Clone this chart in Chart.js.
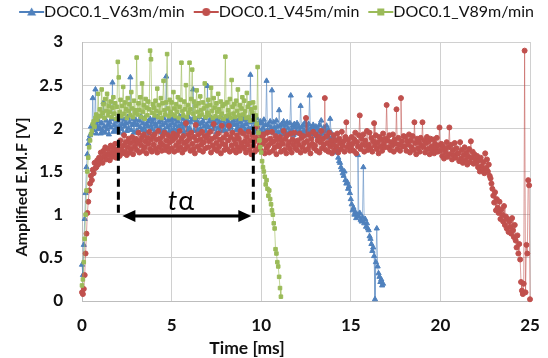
<!DOCTYPE html>
<html>
<head>
<meta charset="utf-8">
<script src="https://cdn.jsdelivr.net/npm/chart.js@4/dist/chart.umd.min.js"></script>
<style>
  body { margin: 0; background: #fff; }
</style>
</head>
<body>
<canvas id="emfChart" width="548" height="358"></canvas>
<script>
  // sampling interval of the plotted points [ms]
  var timeStepMs = 0.05;

  // DOC0.1_V63m/min  (0.0 - 16.8 ms), one row = 1 ms
  var v63Emf = [
    0.42, 0.30, 0.65, 0.95, 1.25, 1.55, 1.70, 1.82, 1.88, 1.92, 2.02, 1.95, 2.35, 1.98, 2.05, 2.45, 1.94, 2.03, 1.99, 2.08,
    2.00, 1.94, 2.06, 1.97, 2.30, 2.02, 1.95, 2.09, 1.99, 2.04, 1.93, 2.07, 2.01, 2.11, 2.53, 1.96, 2.04, 1.98, 2.10, 2.00,
    2.08, 1.96, 2.03, 2.12, 1.99, 2.05, 1.94, 2.10, 2.02, 2.06, 1.97, 2.13, 2.00, 2.07, 2.59, 1.98, 2.04, 2.11, 1.95, 2.06,
    2.10, 1.97, 2.04, 1.95, 2.09, 2.01, 2.14, 1.98, 2.06, 2.00, 2.12, 1.96, 2.05, 2.02, 2.08, 1.94, 2.11, 2.03, 1.99, 2.07,
    2.11, 1.96, 2.05, 2.02, 2.13, 1.97, 2.07, 2.00, 2.09, 1.95, 2.04, 2.12, 1.98, 2.06, 2.60, 2.01, 2.09, 1.96, 2.03, 2.10,
    1.98, 2.06, 2.12, 1.99, 2.04, 2.10, 1.96, 2.08, 2.02, 2.14, 1.97, 2.05, 2.00, 2.11, 1.95, 2.07, 2.03, 2.09, 1.98, 2.13,
    2.00, 2.07, 1.96, 2.10, 2.45, 1.97, 2.11, 2.03, 2.09, 1.98, 2.05, 2.13, 1.99, 2.06, 1.94, 2.08, 2.02, 2.12, 1.97, 2.04,
    2.49, 2.01, 2.08, 1.96, 2.12, 2.04, 1.99, 2.10, 2.02, 2.06, 1.95, 2.11, 2.00, 2.07, 1.97, 2.13, 2.03, 2.09, 1.98, 2.05,
    1.97, 2.11, 2.03, 2.08, 1.99, 2.13, 2.01, 2.06, 1.96, 2.09, 2.04, 2.12, 1.98, 2.05, 2.00, 2.10, 1.95, 2.07, 2.02, 2.14,
    2.02, 2.10, 1.98, 2.05, 1.96, 2.11, 2.00, 2.07, 2.62, 2.00, 2.07, 1.95, 2.09, 2.03, 1.97, 2.12, 2.01, 2.06, 1.94, 2.08,
    1.97, 2.06, 2.00, 2.10, 1.96, 2.04, 2.55, 1.98, 2.04, 1.96, 2.08, 2.01, 2.44, 1.95, 2.07, 2.01, 1.97, 2.09, 2.02, 1.95,
    2.21, 2.03, 1.97, 2.05, 1.93, 2.08, 1.99, 2.04, 1.95, 2.07, 2.00, 1.94, 2.06, 2.38, 1.98, 2.03, 1.92, 2.05, 2.01, 1.96,
    2.06, 1.94, 2.02, 1.97, 2.26, 2.01, 1.95, 2.04, 1.97, 2.07, 1.92, 2.03, 1.98, 2.05, 2.38, 1.96, 2.01, 1.93, 2.04, 1.99,
    1.95, 2.02, 1.91, 2.00, 1.96, 2.04, 1.93, 2.09, 1.98, 1.94, 2.01, 1.90, 1.97, 2.03, 1.92, 1.98, 1.89, 2.11, 1.95, 1.90,
    1.84, 1.80, 1.88, 1.76, 1.72, 1.74, 1.66, 1.62, 1.60, 1.55, 1.52, 1.48, 1.45, 1.50, 1.40, 1.36, 1.38, 1.30, 1.33, 1.25,
    1.18, 1.12, 1.05, 1.08, 1.00, 1.03, 0.96, 1.00, 1.69, 0.98, 1.02, 0.94, 0.92, 0.97, 1.55, 0.90, 0.95, 0.86, 0.90, 0.84,
    0.82, 0.75, 0.72, 0.66, 0.58, 0.62, 0.52, 0.02, 0.45, 0.84, 0.40, 0.32, 0.28, 0.22, 0.25, 0.18, 0.20
  ];

  // DOC0.1_V45m/min  (0.0 - 25.0 ms), one row = 1 ms
  var v45Emf = [
    0.10, 0.08, 0.14, 0.30, 0.55, 0.78, 1.02, 1.15, 1.28, 1.36, 1.45, 1.40, 1.52, 1.48, 1.60, 1.54, 1.55, 1.63, 1.58, 1.66,
    1.62, 1.72, 1.66, 1.60, 1.74, 1.68, 1.78, 1.64, 1.70, 1.76, 1.69, 1.63, 1.80, 1.72, 1.67, 1.77, 1.71, 1.82, 1.66, 1.75,
    1.74, 1.82, 1.68, 1.86, 1.76, 1.71, 1.80, 1.92, 1.73, 1.84, 1.69, 1.78, 1.88, 1.72, 1.83, 1.76, 1.90, 1.70, 1.85, 1.79,
    1.88, 1.75, 1.83, 1.95, 1.72, 1.86, 1.80, 1.90, 1.74, 1.93, 1.78, 1.85, 1.71, 1.89, 1.82, 1.96, 1.76, 1.87, 1.73, 1.91,
    1.81, 1.93, 1.76, 1.87, 1.72, 1.97, 1.78, 1.88, 1.83, 1.74, 1.91, 1.80, 1.95, 1.75, 1.86, 1.79, 1.92, 1.73, 1.84, 1.90,
    1.77, 1.86, 1.94, 1.73, 1.89, 1.80, 1.92, 1.75, 1.84, 1.97, 1.78, 1.88, 1.72, 1.91, 1.83, 1.76, 2.06, 1.85, 1.79, 1.93,
    1.88, 1.74, 1.95, 1.82, 1.76, 1.90, 1.71, 2.04, 1.86, 1.79, 1.93, 1.75, 1.87, 1.81, 1.96, 1.73, 1.84, 1.91, 1.77, 1.89,
    1.92, 1.78, 1.85, 1.96, 1.72, 1.88, 1.80, 2.05, 1.76, 1.90, 1.83, 1.74, 1.94, 1.79, 1.87, 1.71, 2.03, 1.82, 1.89, 1.75,
    1.81, 1.93, 1.76, 1.86, 2.03, 1.73, 1.90, 1.80, 1.95, 1.75, 1.87, 1.82, 1.72, 1.92, 1.78, 1.88, 1.74, 1.97, 1.83, 1.79,
    1.94, 1.77, 1.85, 1.72, 1.90, 1.81, 1.96, 1.75, 1.86, 1.70, 1.92, 1.79, 1.84, 1.73, 1.89, 2.02, 1.76, 1.87, 1.80, 1.93,
    1.74, 1.89, 1.82, 1.93, 1.71, 1.86, 1.77, 1.95, 1.80, 1.72, 1.88, 1.83, 1.96, 1.74, 1.85, 1.78, 1.91, 1.70, 1.87, 1.81,
    1.79, 1.90, 1.73, 1.86, 1.82, 1.97, 1.75, 1.88, 1.71, 1.92, 1.80, 1.84, 1.76, 1.94, 1.72, 1.87, 1.81, 1.95, 1.77, 1.85,
    1.75, 1.86, 1.81, 1.94, 1.72, 1.89, 1.78, 1.91, 1.83, 1.74, 2.12, 1.85, 1.76, 1.93, 1.80, 1.71, 1.88, 1.82, 1.96, 1.77,
    1.80, 1.93, 1.74, 1.86, 1.90, 1.72, 1.84, 1.97, 1.77, 1.88, 1.81, 2.35, 1.75, 1.91, 1.83, 1.73, 1.95, 1.79, 1.86, 1.71,
    1.81, 1.92, 1.75, 1.86, 1.79, 1.94, 1.72, 1.88, 1.83, 1.76, 1.96, 1.80, 1.85, 1.73, 1.90, 2.07, 1.78, 1.87, 1.82, 1.74,
    1.78, 1.90, 1.82, 1.74, 1.87, 1.95, 1.71, 1.84, 1.79, 1.92, 2.15, 1.76, 1.88, 1.81, 1.93, 1.73, 1.86, 1.80, 1.97, 1.75,
    1.81, 1.95, 1.77, 1.89, 1.73, 1.85, 2.06, 1.80, 1.92, 1.76, 1.84, 1.71, 1.90, 1.79, 1.87, 1.74, 1.94, 1.82, 1.78, 1.88,
    2.27, 1.86, 1.78, 1.92, 1.75, 1.84, 1.80, 1.93, 1.73, 1.87, 1.82, 2.22, 1.76, 1.89, 1.81, 1.74, 2.35, 1.85, 1.79, 1.91,
    1.79, 1.90, 1.74, 1.85, 1.81, 1.93, 1.72, 1.86, 1.78, 1.91, 1.75, 2.07, 1.83, 1.70, 1.88, 1.77, 1.84, 1.73, 1.89, 1.80,
    2.07, 1.78, 1.86, 1.72, 1.83, 1.90, 1.76, 1.85, 1.70, 1.88, 1.79, 1.74, 1.87, 1.71, 1.82, 1.77, 1.89, 1.73, 1.80, 2.01,
    1.74, 1.82, 1.68, 1.79, 1.65, 1.76, 1.72, 1.84, 1.67, 1.78, 2.01, 1.70, 1.81, 1.64, 1.75, 1.69, 1.83, 1.66, 1.77, 1.71,
    1.71, 1.62, 1.84, 1.65, 1.75, 1.60, 1.69, 1.78, 1.63, 1.72, 1.58, 1.67, 1.76, 1.61, 1.85, 1.66, 1.73, 1.59, 1.70, 1.64,
    1.60, 1.68, 1.55, 1.63, 1.50, 1.66, 1.56, 1.52, 1.61, 1.48, 1.71, 1.54, 1.64, 1.50, 1.58, 1.45, 1.42, 1.36, 1.30, 1.22,
    1.14, 1.26, 1.05, 1.18, 1.08, 1.02, 1.15, 0.95, 1.06, 1.00, 0.92, 1.10, 0.88, 0.98, 0.84, 0.95, 0.80, 0.92, 0.86, 0.78,
    0.96, 0.82, 0.74, 0.88, 0.70, 0.62, 0.76, 0.55, 0.66, 0.48, 0.22, 0.12, 0.08, 0.20, 2.90, 0.10, 0.65, 0.55, 1.40, 1.34,
    0.02
  ];

  // DOC0.1_V89m/min  (0.0 - 11.1 ms), one row = 1 ms
  var v89Emf = [
    0.18, 0.25, 0.45, 0.72, 1.00, 1.28, 1.50, 1.66, 1.78, 1.86, 1.93, 1.97, 2.05, 2.08, 2.02, 2.12, 2.16, 2.10, 2.40, 2.14,
    2.22, 2.14, 2.45, 2.18, 2.28, 2.12, 2.34, 2.20, 2.40, 2.15, 2.26, 2.19, 2.31, 2.13, 2.24, 2.36, 2.17, 2.29, 2.11, 2.25,
    2.77, 2.59, 2.19, 2.33, 2.14, 2.26, 2.48, 2.17, 2.30, 2.22, 2.12, 2.35, 2.20, 2.28, 2.15, 2.42, 2.23, 2.13, 2.32, 2.18,
    2.21, 2.82, 2.16, 2.29, 2.21, 2.36, 2.13, 2.52, 2.19, 2.27, 2.11, 2.34, 2.24, 2.15, 2.31, 2.22, 2.90, 2.80, 2.18, 2.28,
    2.24, 2.15, 2.32, 2.20, 2.46, 2.13, 2.27, 2.18, 2.35, 2.12, 2.29, 2.55, 2.21, 2.16, 2.30, 2.86, 2.23, 2.14, 2.33, 2.19,
    2.30, 2.16, 2.42, 2.23, 2.14, 2.28, 2.19, 2.36, 2.12, 2.25, 2.33, 2.76, 2.20, 2.15, 2.31, 2.22, 2.50, 2.13, 2.27, 2.18,
    2.76, 2.22, 2.34, 2.68, 2.17, 2.31, 2.12, 2.26, 2.44, 2.19, 2.29, 2.14, 2.37, 2.21, 2.16, 2.30, 2.23, 2.52, 2.13, 2.26,
    2.18, 2.33, 2.15, 2.27, 2.47, 2.20, 2.12, 2.35, 2.24, 2.14, 2.29, 2.19, 2.40, 2.22, 2.13, 2.31, 2.17, 2.26, 2.11, 2.28,
    2.83, 2.14, 2.30, 2.21, 2.16, 2.34, 2.12, 2.56, 2.25, 2.17, 2.28, 2.13, 2.32, 2.20, 2.45, 2.15, 2.27, 2.11, 2.23, 2.36,
    2.16, 2.32, 2.20, 2.12, 2.41, 2.25, 2.13, 2.29, 2.09, 2.22, 2.18, 2.30, 2.10, 2.24, 2.15, 2.05, 2.71, 1.95, 1.86, 1.78,
    1.72, 1.62, 1.55, 1.50, 1.44, 1.35, 1.40, 1.30, 1.22, 1.28, 1.18, 1.12, 1.05, 1.00, 0.90, 0.84, 0.60, 0.55, 0.45, 0.40,
    0.28, 0.15, 0.05
  ];

  var seriesNames = ['DOC0.1_V63m/min', 'DOC0.1_V45m/min', 'DOC0.1_V89m/min'];
  var xTitle = 'Time [ms]';
  var yTitle = 'Amplified E.M.F [V]';

  // tα marker (start/end of the stable region) [ms], levels [V]
  var tAlphaStart = 2.03;
  var tAlphaEnd = 9.56;
  var dashTop = 2.17;
  var dashBottom = 1.0;
  var arrowLevel = 0.985;
  var tAlphaLabelX = 5.5;
  var tAlphaLabelY = 1.15;

  function toPoints(values) {
    return values.map(function (v, i) {
      return { x: Math.round(i * timeStepMs * 100) / 100, y: v };
    });
  }

  // legend icon: line with marker, like the spreadsheet legend
  // (canvas is centred on the 22px legend box, the line ends where the text starts)
  function makeIcon(color, shape) {
    var c = document.createElement('canvas');
    c.width = 40; c.height = 12;
    var g = c.getContext('2d');
    g.strokeStyle = color;
    g.lineWidth = 2;
    g.beginPath(); g.moveTo(14, 6); g.lineTo(39, 6); g.stroke();
    g.fillStyle = color;
    g.beginPath();
    if (shape === 'triangle') {
      g.moveTo(26.5, 1.5); g.lineTo(31, 9.5); g.lineTo(22, 9.5);
    } else if (shape === 'circle') {
      g.arc(26.5, 6, 4, 0, Math.PI * 2);
    } else {
      g.rect(23, 2.5, 7, 7);
    }
    g.closePath();
    g.fill();
    return c;
  }

  var blue = '#4F81BD', red = '#C0504D', green = '#9BBB59';
  var legendIcons = [makeIcon(blue, 'triangle'), makeIcon(red, 'circle'), makeIcon(green, 'rect')];

  // extra room under the legend
  var legendGap = {
    id: 'legendGap',
    beforeInit: function (chart) {
      var fit = chart.legend.fit;
      chart.legend.fit = function () {
        fit.bind(chart.legend)();
        this.height += 12;
      };
    }
  };

  var annotations = {
    id: 'annotations',
    afterDraw: function (chart) {
      var ctx = chart.ctx;
      var xs = chart.scales.x, ys = chart.scales.y;
      ctx.save();
      // axis titles
      ctx.fillStyle = '#111';
      ctx.textAlign = 'center';
      ctx.textBaseline = 'middle';
      ctx.font = 'bold 17.5px Lato';
      ctx.fillText(xTitle, 247, 348);
      ctx.font = 'bold 16px Lato';
      ctx.translate(22, 187);
      ctx.rotate(-Math.PI / 2);
      ctx.fillText(yTitle, 0, 0);
      ctx.restore();

      var x1 = xs.getPixelForValue(tAlphaStart);
      var x2 = xs.getPixelForValue(tAlphaEnd);
      var yTop = ys.getPixelForValue(dashTop);
      var yBot = ys.getPixelForValue(dashBottom);
      var yArr = ys.getPixelForValue(arrowLevel);
      ctx.save();
      ctx.strokeStyle = '#000';
      ctx.lineWidth = 3;
      ctx.setLineDash([8, 5]);
      [x1, x2].forEach(function (x) {
        ctx.beginPath(); ctx.moveTo(x, yTop); ctx.lineTo(x, yBot); ctx.stroke();
      });
      ctx.setLineDash([]);
      var a1 = x1 + 4, a2 = x2 - 2;
      ctx.beginPath(); ctx.moveTo(a1 + 10, yArr); ctx.lineTo(a2 - 10, yArr); ctx.stroke();
      ctx.fillStyle = '#000';
      ctx.beginPath(); ctx.moveTo(a1, yArr); ctx.lineTo(a1 + 13, yArr - 6); ctx.lineTo(a1 + 13, yArr + 6); ctx.closePath(); ctx.fill();
      ctx.beginPath(); ctx.moveTo(a2, yArr); ctx.lineTo(a2 - 13, yArr - 6); ctx.lineTo(a2 - 13, yArr + 6); ctx.closePath(); ctx.fill();
      var lx = xs.getPixelForValue(tAlphaLabelX);
      var ly = ys.getPixelForValue(tAlphaLabelY);
      ctx.textBaseline = 'middle';
      ctx.font = 'italic 27px Lato';
      var tw = ctx.measureText('t').width;
      ctx.font = '27px Lato';
      var aw = ctx.measureText('α').width;
      var sx = lx - (tw + aw) / 2;
      ctx.font = 'italic 27px Lato';
      ctx.textAlign = 'left';
      ctx.fillText('t', sx, ly);
      ctx.font = '27px Lato';
      ctx.fillText('α', sx + tw + 1, ly);
      ctx.restore();
    }
  };

  Chart.defaults.font.family = 'Lato';
  Chart.defaults.color = '#111';

  var ctx = document.getElementById('emfChart').getContext('2d');
  var emfChart = new Chart(ctx, {
    type: 'line',
    data: {
      datasets: [
        {
          label: seriesNames[0],
          data: toPoints(v63Emf),
          borderColor: 'rgba(79,129,189,0.55)',
          backgroundColor: blue,
          pointBackgroundColor: blue,
          pointBorderColor: blue,
          pointStyle: 'triangle',
          pointRadius: 3,
          borderWidth: 1,
          order: 2
        },
        {
          label: seriesNames[1],
          data: toPoints(v45Emf),
          borderColor: 'rgba(192,80,77,0.55)',
          backgroundColor: red,
          pointBackgroundColor: red,
          pointBorderColor: red,
          pointStyle: 'circle',
          pointRadius: 2.5,
          borderWidth: 1,
          order: 1
        },
        {
          label: seriesNames[2],
          data: toPoints(v89Emf),
          borderColor: 'rgba(155,187,89,0.6)',
          backgroundColor: green,
          pointBackgroundColor: green,
          pointBorderColor: green,
          pointStyle: 'rect',
          pointRadius: 2.5,
          borderWidth: 1,
          order: 0
        }
      ]
    },
    options: {
      responsive: false,
      animation: false,
      datasets: { line: { tension: 0, clip: 6 } },
      layout: { padding: 0 },
      plugins: {
        tooltip: { enabled: false },
        legend: {
          position: 'top',
          labels: {
            usePointStyle: true,
            pointStyleWidth: 22,
            padding: 4,
            color: '#111',
            font: { size: 16 },
            sort: function (a, b) { return a.datasetIndex - b.datasetIndex; },
            generateLabels: function (chart) {
              var items = Chart.defaults.plugins.legend.labels.generateLabels(chart);
              items.forEach(function (it) { it.pointStyle = legendIcons[it.datasetIndex]; });
              return items;
            }
          }
        }
      },
      scales: {
        x: {
          type: 'linear',
          min: 0,
          max: 25,
          ticks: { stepSize: 5, padding: 14, font: { size: 17, weight: 'bold' } },
          grid: { color: '#d0d0d0', drawTicks: false },
          border: { color: '#bdbdbd' },
          afterFit: function (s) { s.height = 57; s.paddingRight = 18; }
        },
        y: {
          min: 0,
          max: 3,
          ticks: {
            stepSize: 0.5,
            padding: 19,
            font: { size: 17, weight: 'bold' },
            callback: function (v) { return String(v); }
          },
          grid: { color: '#d0d0d0', drawTicks: false },
          border: { color: '#bdbdbd' },
          afterFit: function (s) { s.width = 82; }
        }
      }
    },
    plugins: [legendGap, annotations]
  });
</script>
